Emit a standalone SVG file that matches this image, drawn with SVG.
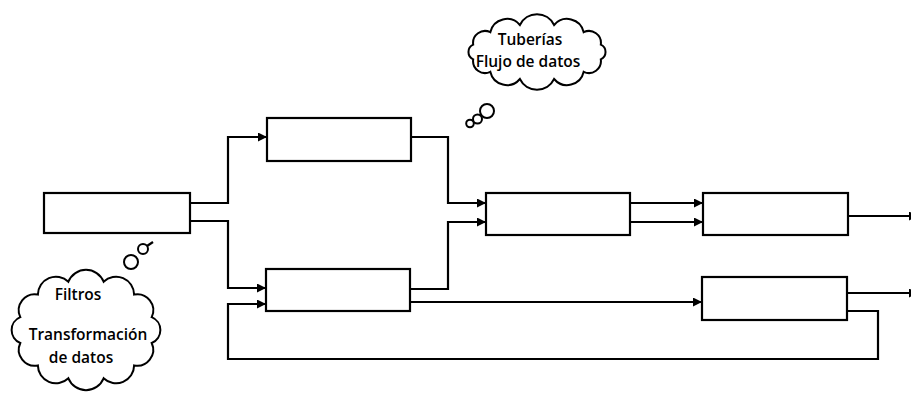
<svg xmlns="http://www.w3.org/2000/svg" width="911" height="395" viewBox="0 0 911 395">
<style>
.box{fill:#fff;stroke:#000;stroke-width:2.2}
.ln{fill:none;stroke:#000;stroke-width:2.2}
.cl{fill:#fff;stroke:#000;stroke-width:2}
.t{font-family:"Open Sans","DejaVu Sans",sans-serif;font-size:15.5px;font-weight:600;fill:#000;text-anchor:middle}
</style>
<defs>
<marker id="ah" viewBox="0 0 10 10" refX="10" refY="5" markerWidth="10" markerHeight="9" markerUnits="userSpaceOnUse" orient="auto">
<path d="M0,0 L10,5 L0,10 Z" fill="#000"/>
</marker>
</defs>
<rect width="911" height="395" fill="#fff"/>
<g id="connectors">
<path class="ln" d="M190,203 H228 V137 H267" marker-end="url(#ah)"/>
<path class="ln" d="M190,221 H228 V288 H266" marker-end="url(#ah)"/>
<path class="ln" d="M411,137 H448 V203 H486" marker-end="url(#ah)"/>
<path class="ln" d="M410,289 H448 V222 H486" marker-end="url(#ah)"/>
<path class="ln" d="M630,203 H703" marker-end="url(#ah)"/>
<path class="ln" d="M630,222 H703" marker-end="url(#ah)"/>
<path class="ln" d="M410,302 H702" marker-end="url(#ah)"/>
<path class="ln" d="M847,311 H878 V359 H228 V304 H266" marker-end="url(#ah)"/>
<path class="ln" d="M848,216 H918" marker-end="url(#ah)"/>
<path class="ln" d="M847,293 H918" marker-end="url(#ah)"/>
</g>
<g id="nodeA"><rect class="box" x="44" y="193" width="146" height="40"/></g>
<g id="nodeB"><rect class="box" x="267" y="118" width="144" height="43"/></g>
<g id="nodeC"><rect class="box" x="486" y="193" width="144" height="42"/></g>
<g id="nodeD"><rect class="box" x="266" y="269" width="144" height="42"/></g>
<g id="nodeF"><rect class="box" x="703" y="193" width="145" height="42"/></g>
<g id="nodeE"><rect class="box" x="702" y="277" width="145" height="43"/></g>
<g id="cloudPipes">
<circle class="cl" cx="470" cy="123.5" r="3.8"/>
<circle class="cl" cx="477.5" cy="119" r="4.5"/>
<circle class="cl" cx="487" cy="111" r="7"/>
<path class="cl" d="M600.8,44.7 A8 8 0 0 1 600.8,59.3 A12 12 0 0 1 583.7,71.8 A17 17 0 0 1 554.1,79 A19 19 0 0 1 519.9,79 A17 17 0 0 1 490.3,71.8 A12 12 0 0 1 473.2,59.3 A8 8 0 0 1 473.2,44.7 A12 12 0 0 1 490.3,32.2 A17 17 0 0 1 519.9,25 A19 19 0 0 1 554.1,25 A17 17 0 0 1 583.7,32.2 A12 12 0 0 1 600.8,44.7 Z"/>
<text class="t" x="530" y="45">Tuberías</text>
<text class="t" x="528" y="67">Flujo de datos</text>
</g>
<g id="cloudFilters">
<path class="ln" d="M147,246 L153,242" stroke-width="2"/>
<circle class="cl" cx="143" cy="249" r="5"/>
<circle class="cl" cx="131" cy="262" r="7"/>
<path class="cl" d="M151.7,317.1 A14 14 0 0 1 151.7,343 A16 16 0 0 1 134.1,365.4 A18 18 0 0 1 103.6,378.3 A19 19 0 0 1 68.4,378.3 A18 18 0 0 1 37.9,365.4 A16 16 0 0 1 20.3,343 A14 14 0 0 1 20.3,317.1 A16 16 0 0 1 37.9,294.6 A18 18 0 0 1 68.4,281.7 A19 19 0 0 1 103.6,281.7 A18 18 0 0 1 134.1,294.6 A16 16 0 0 1 151.7,317.1 Z"/>
<text class="t" x="78" y="300">Filtros</text>
<text class="t" x="88" y="340">Transformación</text>
<text class="t" x="81" y="363">de datos</text>
</g>
</svg>
